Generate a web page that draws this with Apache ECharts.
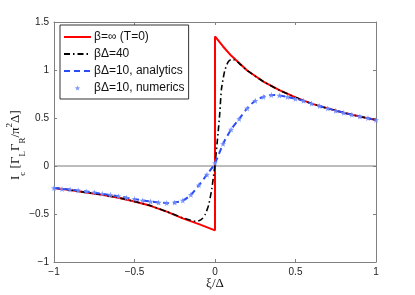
<!DOCTYPE html>
<html><head><meta charset="utf-8">
<script src="https://cdn.jsdelivr.net/npm/echarts@6/dist/echarts.min.js"></script>
<style>html,body{margin:0;padding:0;background:#fff}#c{width:415px;height:295px}</style>
</head><body><div id="c"></div>
<script>
// T=0 curve (two branches, jump at xi=0)
var t0NegXi  = [-1, -0.9, -0.8, -0.7, -0.6, -0.5, -0.4, -0.3, -0.2, -0.1, 0];
var t0NegVal = [-0.23, -0.25, -0.275, -0.30, -0.33, -0.37, -0.415, -0.475, -0.545, -0.605, -0.67];
var t0PosXi  = [0, 0.05, 0.1, 0.2, 0.3, 0.4, 0.5, 0.6, 0.7, 0.8, 0.9, 1];
var t0PosVal = [1.35, 1.245, 1.15, 0.995, 0.88, 0.79, 0.715, 0.65, 0.60, 0.555, 0.515, 0.48];
// beta*Delta = 40
var b40Xi  = [-1, -0.9, -0.8, -0.7, -0.6, -0.5, -0.4, -0.3, -0.2, -0.15, -0.12, -0.1, -0.08, -0.06, -0.04, -0.02, 0, 0.02, 0.03, 0.04, 0.06, 0.08, 0.1, 0.12, 0.15, 0.2, 0.3, 0.4, 0.5, 0.6, 0.7, 0.8, 0.9, 1];
var b40Val = [-0.23, -0.25, -0.275, -0.30, -0.33, -0.37, -0.415, -0.475, -0.54, -0.565, -0.575, -0.57, -0.55, -0.50, -0.41, -0.24, 0.02, 0.36, 0.56, 0.80, 0.99, 1.08, 1.11, 1.105, 1.07, 0.995, 0.88, 0.79, 0.715, 0.65, 0.60, 0.555, 0.515, 0.48];
// beta*Delta = 10, analytics
var b10Xi  = [-1, -0.9, -0.8, -0.7, -0.6, -0.5, -0.4, -0.3, -0.25, -0.2, -0.15, -0.1, -0.05, 0, 0.05, 0.1, 0.15, 0.2, 0.25, 0.3, 0.35, 0.4, 0.45, 0.5, 0.55, 0.6, 0.7, 0.8, 0.9, 1];
var b10Val = [-0.23, -0.245, -0.265, -0.29, -0.315, -0.345, -0.37, -0.385, -0.38, -0.36, -0.30, -0.20, -0.09, 0.03, 0.23, 0.38, 0.49, 0.60, 0.68, 0.72, 0.74, 0.735, 0.72, 0.70, 0.68, 0.65, 0.60, 0.555, 0.515, 0.48];
// beta*Delta = 10, numerics
var numXi  = [-1, -0.95, -0.9, -0.85, -0.8, -0.75, -0.7, -0.65, -0.6, -0.55, -0.5, -0.45, -0.4, -0.35, -0.3, -0.25, -0.2, -0.15, -0.1, -0.05, 0, 0.05, 0.1, 0.15, 0.2, 0.25, 0.3, 0.35, 0.4, 0.45, 0.5, 0.55, 0.6, 0.65, 0.7, 0.75, 0.8, 0.85, 0.9, 0.95, 1];
var numVal = [-0.23, -0.24, -0.245, -0.255, -0.265, -0.275, -0.29, -0.30, -0.315, -0.33, -0.345, -0.36, -0.37, -0.38, -0.385, -0.38, -0.36, -0.30, -0.20, -0.09, 0.03, 0.23, 0.38, 0.49, 0.60, 0.68, 0.72, 0.74, 0.735, 0.72, 0.70, 0.68, 0.65, 0.625, 0.60, 0.575, 0.555, 0.535, 0.515, 0.50, 0.48];
var xTicks = [-1, -0.5, 0, 0.5, 1];
var yTicks = [-1, -0.5, 0, 0.5, 1, 1.5];
var names = ['\u03b2=\u221e (T=0)', '\u03b2\u0394=40', '\u03b2\u0394=10, analytics', '\u03b2\u0394=10, numerics'];

function zip(a, b) { return a.map(function (v, i) { return [v, b[i]]; }); }
var t0Data = zip(t0NegXi, t0NegVal).concat(zip(t0PosXi, t0PosVal));
function fmt(v) { return String(v).replace('-', '\u2212'); }

var chart = echarts.init(document.getElementById('c'), null, {renderer: 'canvas'});
var axisCol = '#808080';
var baseX = {type: 'value', min: xTicks[0], max: xTicks[xTicks.length - 1], interval: 0.5,
  axisLine: {show: true, onZero: false, lineStyle: {color: axisCol, width: 1}},
  axisTick: {show: true, inside: true, length: 3, lineStyle: {color: axisCol}},
  splitLine: {show: false}};
var baseY = {type: 'value', min: yTicks[0], max: yTicks[yTicks.length - 1], interval: 0.5,
  axisLine: {show: true, onZero: false, lineStyle: {color: axisCol, width: 1}},
  axisTick: {show: true, inside: true, length: 3, lineStyle: {color: axisCol}},
  splitLine: {show: false}};
var lblStyle = {color: '#222', fontSize: 10, fontFamily: 'Liberation Sans, Arial, sans-serif', formatter: fmt};

var starPath = 'path://M0,-10 L2.4,-3.3 L9.5,-3.1 L3.9,1.3 L5.9,8.1 L0,4.1 L-5.9,8.1 L-3.9,1.3 L-9.5,-3.1 L-2.4,-3.3 Z';
var starLegendPath = 'path://M-48,-22 M48,20 M0,-10 L2.4,-3.3 L9.5,-3.1 L3.9,1.3 L5.9,8.1 L0,4.1 L-5.9,8.1 L-3.9,1.3 L-9.5,-3.1 L-2.4,-3.3 Z';

chart.setOption({
  animation: false,
  backgroundColor: '#fff',
  grid: {left: 54, right: 39, top: 22, bottom: 33, containLabel: false},
  xAxis: [
    Object.assign({}, baseX, {position: 'bottom', axisLabel: Object.assign({}, lblStyle, {margin: 5})}),
    Object.assign({}, baseX, {position: 'top', axisLabel: {show: false}})
  ],
  yAxis: [
    Object.assign({}, baseY, {position: 'left', axisLabel: Object.assign({}, lblStyle, {margin: 5})}),
    Object.assign({}, baseY, {position: 'right', axisLabel: {show: false}})
  ],
  legend: {
    data: names.map(function (n, i) {
      return i === 3 ? {name: n, icon: starLegendPath} : {name: n, itemStyle: {opacity: 0}};
    }),
    orient: 'vertical', left: 60, top: 25,
    padding: [6, 4, 5, 3], itemGap: 5, itemWidth: 27, itemHeight: 12,
    backgroundColor: '#fff', borderColor: '#333', borderWidth: 1, borderRadius: 0,
    textStyle: {fontSize: 12, color: '#111', fontFamily: 'Liberation Sans, Arial, sans-serif', padding: [0, 0, 0, -2]},
    selectedMode: false
  },
  series: [
    {type: 'line', name: 'zero', data: [[xTicks[0], 0], [xTicks[xTicks.length - 1], 0]], symbol: 'none',
      lineStyle: {color: '#7a7a7a', width: 1}, silent: true, z: 1},
    {type: 'line', name: names[0], data: t0Data, symbol: 'none',
      lineStyle: {color: '#ff0000', width: 2}, itemStyle: {color: '#ff0000'}, z: 2},
    {type: 'line', name: names[1], data: zip(b40Xi, b40Val), symbol: 'none', smooth: 0.2,
      lineStyle: {color: '#000', width: 1.6, type: [6, 3, 1.5, 3]}, itemStyle: {color: '#000'}, z: 3},
    {type: 'line', name: names[2], data: zip(b10Xi, b10Val), symbol: 'none', smooth: 0.3,
      lineStyle: {color: '#2a4cf2', width: 2, type: [6, 4]}, itemStyle: {color: '#2a4cf2'}, z: 4},
    {type: 'scatter', name: names[3], data: zip(numXi, numVal), symbol: starPath, symbolSize: 6,
      itemStyle: {color: '#6f8cff', opacity: 0.9}, z: 5}
  ],
  graphic: [
    {type: 'text', x: 215, y: 277,
      style: {text: '\u03be/\u0394', font: '13px "Liberation Serif", serif', fill: '#111', align: 'center'}},
    {type: 'text', x: 5, y: 180, rotation: Math.PI / 2,
      style: {
        text: '{n|I}{s|c}{n| [\u0393}{s|L}{n|\u0393}{s|R}{n|/\u03c0}{p|2}{n|\u0394]}',
        rich: {
          n: {font: '13px "Liberation Serif", serif', fill: '#111', lineHeight: 22, verticalAlign: 'middle'},
          s: {font: '9px "Liberation Serif", serif', fill: '#111', lineHeight: 22, verticalAlign: 'bottom'},
          p: {font: '9px "Liberation Serif", serif', fill: '#111', lineHeight: 22, verticalAlign: 'top'}
        }
      }}
  ]
});
</script></body></html>
